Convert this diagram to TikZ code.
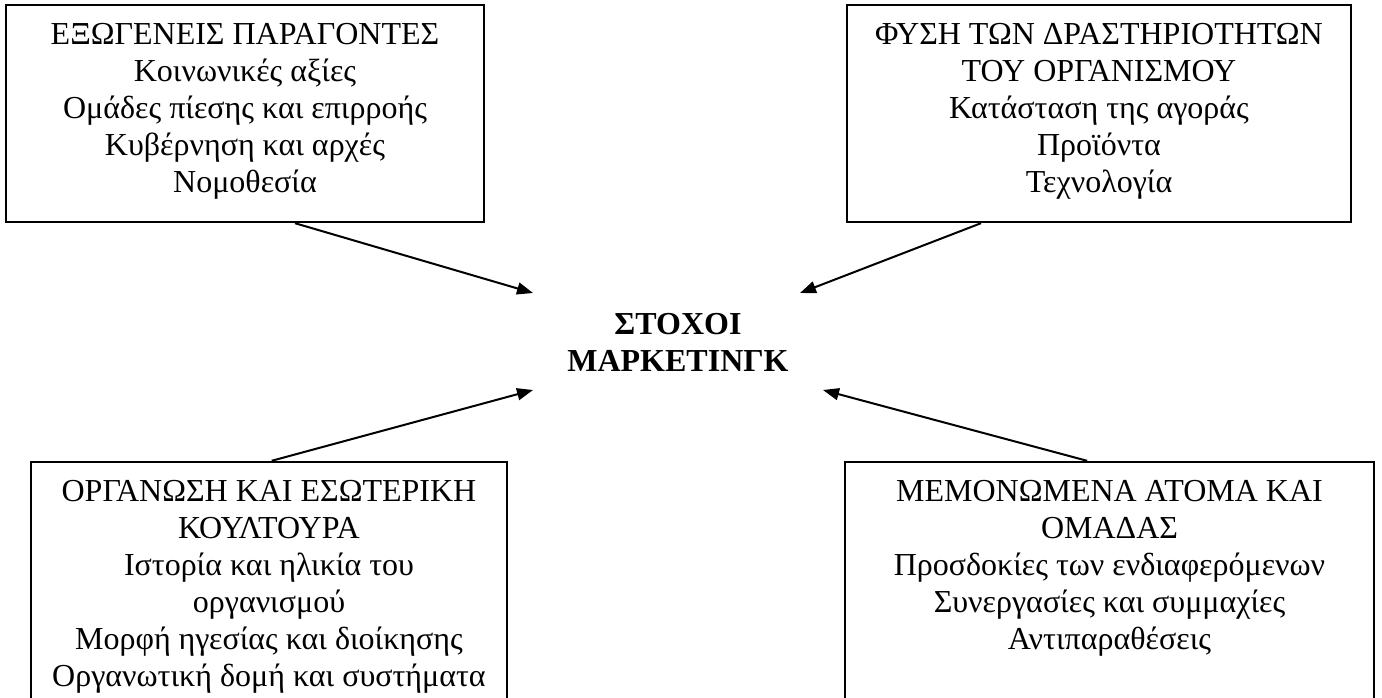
\documentclass[tikz,border=0pt]{standalone}
\usepackage{fontspec}
\setmainfont{Liberation Serif}
\usetikzlibrary{arrows.meta,fit,positioning}

\begin{document}
\begin{tikzpicture}[x=0.375pt, y=-0.375pt,
	box/.style={draw, line width=0.9pt, inner sep=0pt},
	boxtext/.style={align=center, inner sep=0pt, font=\fontsize{12}{13.9}\selectfont},
	arr/.style={-{Triangle[length=6pt,width=4.5pt]}, line width=0.75pt}]
	\clip (0,0) rectangle (1382,698);
	% the four boxes
	\node[box, fit={(6,5) (484,222)}] (exo) {};
	\node[box, fit={(847,5) (1351,222)}] (fysi) {};
	\node[box, fit={(31,462) (507,760)}] (org) {};
	\node[box, fit={(845,462) (1374,760)}] (atoma) {};
	\node[boxtext, below=7pt of exo.north] (exotext) {ΕΞΩΓΕΝΕΙΣ ΠΑΡΑΓΟΝΤΕΣ\\Κοινωνικές αξίες\\Ομάδες πίεσης και επιρροής\\Κυβέρνηση και αρχές\\Νομοθεσία};
	\node[boxtext, below=7pt of fysi.north] (fysitext) {ΦΥΣΗ ΤΩΝ ΔΡΑΣΤΗΡΙΟΤΗΤΩΝ\\ΤΟΥ ΟΡΓΑΝΙΣΜΟΥ\\Κατάσταση της αγοράς\\Προϊόντα\\Τεχνολογία};
	\node[boxtext, below=7pt of org.north] (orgtext) {ΟΡΓΑΝΩΣΗ ΚΑΙ ΕΣΩΤΕΡΙΚΗ\\ΚΟΥΛΤΟΥΡΑ\\Ιστορία και ηλικία του\\οργανισμού\\Μορφή ηγεσίας και διοίκησης\\Οργανωτική δομή και συστήματα};
	\node[boxtext, below=7pt of atoma.north] (atomatext) {ΜΕΜΟΝΩΜΕΝΑ ΑΤΟΜΑ ΚΑΙ\\ΟΜΑΔΑΣ\\Προσδοκίες των ενδιαφερόμενων\\Συνεργασίες και συμμαχίες\\Αντιπαραθέσεις};
	% centre
	\node[boxtext, font=\fontsize{12}{13.9}\selectfont\bfseries] (stoxoi) at (678,342) {ΣΤΟΧΟΙ\\ΜΑΡΚΕΤΙΝΓΚ};
	\coordinate (inA) at (533,293);
	\coordinate (inB) at (800,293);
	\coordinate (inC) at (533,390);
	\coordinate (inD) at (823,390);
	\draw[arr] ([xshift=18.75pt]exo.south) -- (inA);
	\draw[arr] ([xshift=-44.25pt]fysi.south) -- (inB);
	\draw[arr] ([xshift=1pt]org.north) -- (inC);
	\draw[arr] ([xshift=-8.4pt]atoma.north) -- (inD);
\end{tikzpicture}
\end{document}
